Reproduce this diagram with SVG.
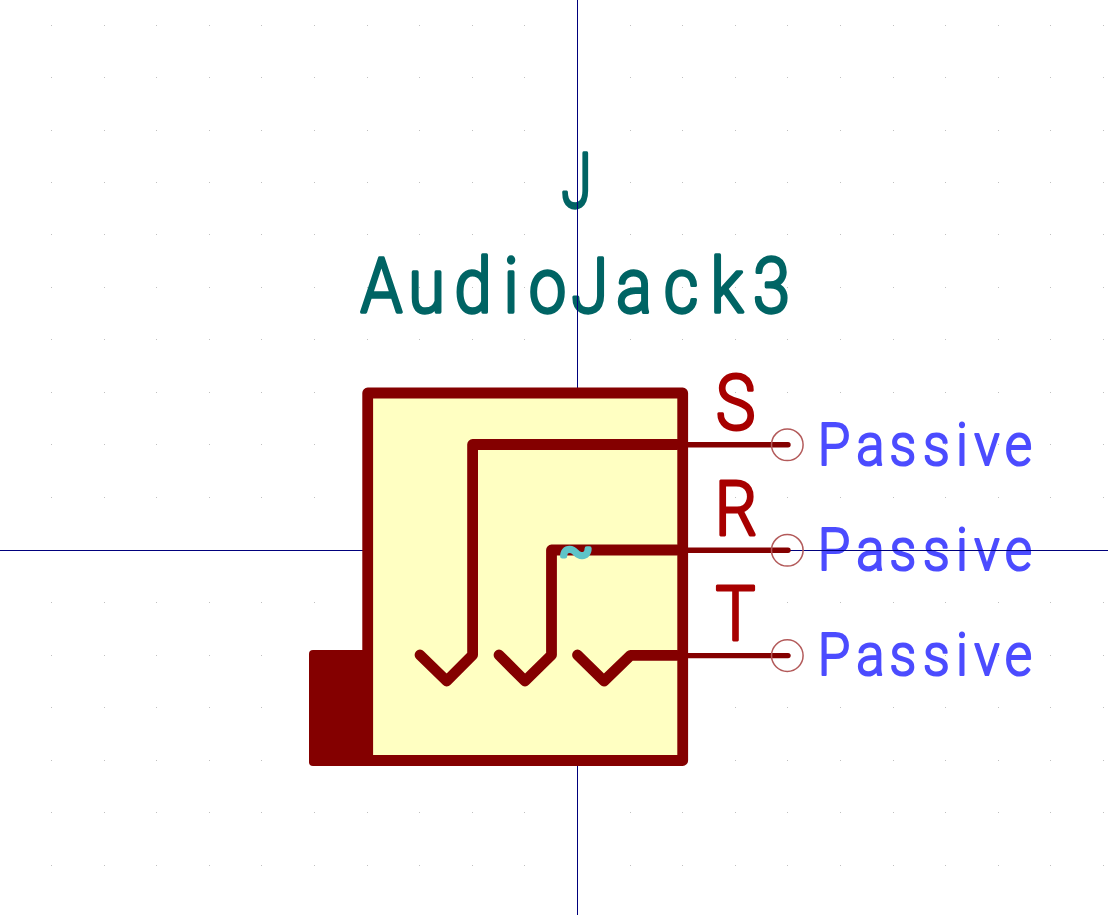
<svg xmlns="http://www.w3.org/2000/svg" width="1108" height="915" viewBox="0 0 1108 915">
<style>
text{font-family:Roboto,"Liberation Sans",sans-serif;font-weight:300;text-anchor:middle;stroke-linejoin:round;stroke-linecap:round}
.field{fill:#006464;stroke:#006464;stroke-width:3.4;font-size:76px}
.pinname{fill:#a80000;stroke:#a80000;stroke-width:3;font-size:76px}
.etype{fill:#4c4cff;stroke:#4c4cff;stroke-width:2.2;font-size:60px}
.hidden{fill:#5ec4c8;stroke:#5ec4c8;stroke-width:4.5;font-size:50px}
.wire{fill:none;stroke:#840000;stroke-width:10.8;stroke-linecap:round;stroke-linejoin:round}
.pin{fill:none;stroke:#840000;stroke-width:5.4;stroke-linecap:round}
.ring{fill:none;stroke:#b35a5a;stroke-width:1.5}
</style>
<rect width="1108" height="915" fill="#ffffff"/>
<path id="grid" fill="none" stroke="#c0c0c0" stroke-width="1" stroke-dasharray="1 51.6" shape-rendering="crispEdges" d="M51 25.5H1108M51 77.5H1108M51 130.5H1108M51 182.5H1108M51 234.5H1108M51 287.5H1108M51 339.5H1108M51 392.5H1108M51 444.5H1108M51 497.5H1108M51 602.5H1108M51 655.5H1108M51 707.5H1108M51 760.5H1108M51 812.5H1108M51 865.5H1108"/>
<g id="reference" transform="scale(.72 1)"><text class="field" x="800.700" y="207">J</text></g>
<g id="value" transform="scale(.88 1)"><text class="field" x="433.500 484.700 537.500 580.700 622.200 670.500 720.500 773.900 826.100 876.700" y="312">AudioJack3</text></g>
<g id="types" transform="scale(.88 1)">
<text class="etype" x="947.700 989.200 1026.100 1064.200 1093.200 1121.600 1157.400" y="465">Passive</text>
<text class="etype" x="947.700 989.200 1026.100 1064.200 1093.200 1121.600 1157.400" y="570">Passive</text>
<text class="etype" x="947.700 989.200 1026.100 1064.200 1093.200 1121.600 1157.400" y="675">Passive</text>
</g>
<g id="axes" fill="none" stroke="#00007c" stroke-width="1">
<path d="M577.500 0V915"/>
<path d="M0 550.500H1108"/>
</g>
<g id="body">
<rect x="309" y="650" width="64" height="116" rx="4" fill="#840000"/>
<rect x="367.700" y="393" width="315" height="367.500" fill="#ffffc2" stroke="#840000" stroke-width="10.800" stroke-linejoin="round"/>
</g>
<g id="connectors">
<path class="wire" d="M677 444.500H472.600V655L446.700 681L420 655"/>
<path class="wire" d="M677 550H551.500V655L525 681L499 655"/>
<path class="wire" d="M677 655.300H630.500L604 681L577.500 655"/>
<path class="pin" d="M688 444.800H788"/>
<path class="pin" d="M688 550.300H788"/>
<path class="pin" d="M688 655.600H788"/>
</g>
<g id="pin-S"><circle class="ring" cx="787.300" cy="444.800" r="15.800"/><text class="pinname" transform="scale(.88 1)" x="835.800" y="429">S</text></g>
<g id="pin-R"><circle class="ring" cx="787.300" cy="550.300" r="15.800"/><text class="pinname" transform="scale(.88 1)" x="836.400" y="535">R</text></g>
<g id="pin-T"><circle class="ring" cx="787.300" cy="655.600" r="15.800"/><text class="pinname" transform="scale(.88 1)" x="835.800" y="640">T</text></g>
<g id="pin-name-hidden"><text class="hidden" x="576" y="567">~</text></g>
</svg>
